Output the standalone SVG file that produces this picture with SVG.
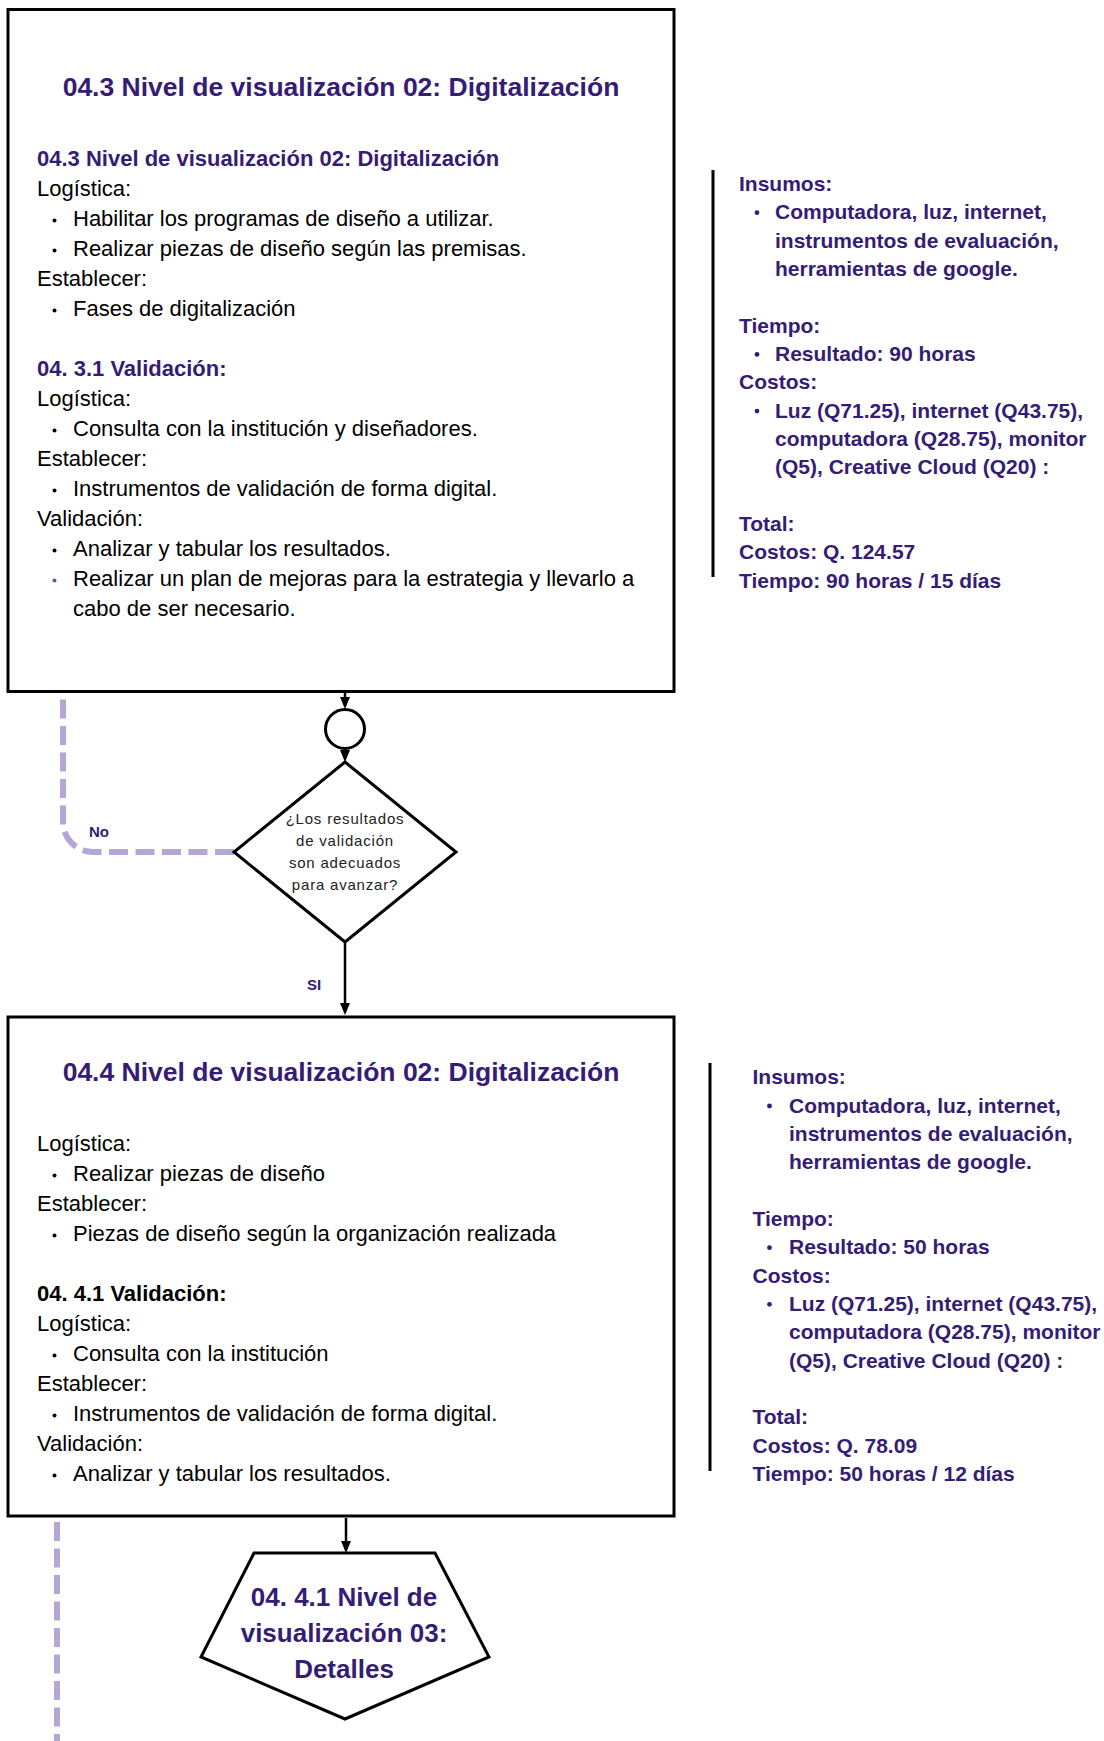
<svg xmlns="http://www.w3.org/2000/svg" width="1104" height="1741" viewBox="0 0 1104 1741">
<style>
.box{fill:#fff;stroke:#000;stroke-width:3}
.shape{fill:#fff;stroke:#000;stroke-width:3}
text{font-family:"Liberation Sans",Arial,Helvetica,sans-serif}
.title{font-size:26.5px;font-weight:bold;fill:#351c75}
.body{font-size:22px;fill:#000}
.h{font-size:22px;font-weight:bold;fill:#351c75}
.hb{font-size:22px;font-weight:bold;fill:#000}
.side{font-size:21px;font-weight:bold;fill:#351c75}
.q{font-size:15px;fill:#222;letter-spacing:0.8px}
.lbl{font-size:15px;font-weight:bold;fill:#351c75}
.pent{font-size:26px;font-weight:bold;fill:#351c75}
.arrow{stroke:#000;stroke-width:2.5;fill:none;marker-end:url(#ah)}
.dash{stroke:#b4a7d6;stroke-width:6;fill:none;stroke-dasharray:19 7.5}
.vline{stroke:#000;stroke-width:3}
.bk{fill:#000}
.bp{fill:#351c75}
</style>
<defs>
<marker id="ah" markerUnits="userSpaceOnUse" markerWidth="12" markerHeight="10" refX="9" refY="5" orient="auto" viewBox="0 0 12 10"><path d="M0,0 L12,5 L0,10 z" fill="#000"/></marker>
</defs>

<g id="connectors">
<path class="arrow" d="M345 693 V706"/>
<path class="arrow" d="M345 749 V759"/>
<path class="arrow" d="M345 943 V1012"/>
<path class="arrow" d="M346 1518 V1550"/>
<path class="dash" d="M234 852 H93 A30 30 0 0 1 63 822 V693"/>
<path class="dash" d="M57 1522 V1741"/>
<text class="lbl" x="99" y="836.5" text-anchor="middle">No</text>
<text class="lbl" x="314" y="989.5" text-anchor="middle">SI</text>
</g>

<g id="box1">
<rect class="box" x="8" y="9.5" width="666" height="682"/>
<text class="title" x="341" y="95.5" text-anchor="middle">04.3 Nivel de visualización 02: Digitalización</text>
<text class="h" x="37" y="166">04.3 Nivel de visualización 02: Digitalización</text>
<text class="body" x="37" y="196">Logística:</text>
<circle class="bk" cx="54.5" cy="220.5" r="2"/>
<text class="body" x="73" y="226">Habilitar los programas de diseño a utilizar.</text>
<circle class="bk" cx="54.5" cy="250.5" r="2"/>
<text class="body" x="73" y="256">Realizar piezas de diseño según las premisas.</text>
<text class="body" x="37" y="286">Establecer:</text>
<circle class="bk" cx="54.5" cy="310.5" r="2"/>
<text class="body" x="73" y="316">Fases de digitalización</text>
<text class="h" x="37" y="376">04. 3.1 Validación:</text>
<text class="body" x="37" y="406">Logística:</text>
<circle class="bk" cx="54.5" cy="430.5" r="2"/>
<text class="body" x="73" y="436">Consulta con la institución y diseñadores.</text>
<text class="body" x="37" y="466">Establecer:</text>
<circle class="bk" cx="54.5" cy="490.5" r="2"/>
<text class="body" x="73" y="496">Instrumentos de validación de forma digital.</text>
<text class="body" x="37" y="526">Validación:</text>
<circle class="bk" cx="54.5" cy="550.5" r="2"/>
<text class="body" x="73" y="556">Analizar y tabular los resultados.</text>
<circle fill="#674ea7" cx="54.5" cy="580.5" r="2"/>
<text class="body" x="73" y="586">Realizar un plan de mejoras para la estrategia y llevarlo a</text>
<text class="body" x="73" y="616">cabo de ser necesario.</text>
</g>

<g id="side1">
<line class="vline" x1="713" y1="170" x2="713" y2="577"/>
<text class="side" x="739" y="190.8">Insumos:</text>
<circle class="bp" cx="757" cy="212.7" r="2.4"/>
<text class="side" x="775" y="219.2">Computadora, luz, internet,</text>
<text class="side" x="775" y="247.5">instrumentos de evaluación,</text>
<text class="side" x="775" y="275.9">herramientas de google.</text>
<text class="side" x="739" y="332.6">Tiempo:</text>
<circle class="bp" cx="757" cy="354.4" r="2.4"/>
<text class="side" x="775" y="360.9">Resultado: 90 horas</text>
<text class="side" x="739" y="389.3">Costos:</text>
<circle class="bp" cx="757" cy="411.1" r="2.4"/>
<text class="side" x="775" y="417.6">Luz (Q71.25), internet (Q43.75),</text>
<text class="side" x="775" y="446">computadora (Q28.75), monitor</text>
<text class="side" x="775" y="474.3">(Q5), Creative Cloud (Q20) :</text>
<text class="side" x="739" y="531">Total:</text>
<text class="side" x="739" y="559.4">Costos: Q. 124.57</text>
<text class="side" x="739" y="587.7">Tiempo: 90 horas / 15 días</text>
</g>

<g id="merge">
<circle class="shape" cx="345" cy="729" r="19.5"/>
</g>

<g id="decision">
<polygon class="shape" points="345,762 456,852 345,942 234,852"/>
<text class="q" x="345" y="823.5" text-anchor="middle">¿Los resultados</text>
<text class="q" x="345" y="845.5" text-anchor="middle">de validación</text>
<text class="q" x="345" y="867.5" text-anchor="middle">son adecuados</text>
<text class="q" x="345" y="889.5" text-anchor="middle">para avanzar?</text>
</g>

<g id="box2">
<rect class="box" x="8" y="1017" width="666" height="499"/>
<text class="title" x="341" y="1080.5" text-anchor="middle">04.4 Nivel de visualización 02: Digitalización</text>
<text class="body" x="37" y="1151">Logística:</text>
<circle class="bk" cx="54.5" cy="1175.5" r="2"/>
<text class="body" x="73" y="1181">Realizar piezas de diseño</text>
<text class="body" x="37" y="1211">Establecer:</text>
<circle class="bk" cx="54.5" cy="1235.5" r="2"/>
<text class="body" x="73" y="1241">Piezas de diseño según la organización realizada</text>
<text class="hb" x="37" y="1301">04. 4.1 Validación:</text>
<text class="body" x="37" y="1331">Logística:</text>
<circle class="bk" cx="54.5" cy="1355.5" r="2"/>
<text class="body" x="73" y="1361">Consulta con la institución</text>
<text class="body" x="37" y="1391">Establecer:</text>
<circle class="bk" cx="54.5" cy="1415.5" r="2"/>
<text class="body" x="73" y="1421">Instrumentos de validación de forma digital.</text>
<text class="body" x="37" y="1451">Validación:</text>
<circle class="bk" cx="54.5" cy="1475.5" r="2"/>
<text class="body" x="73" y="1481">Analizar y tabular los resultados.</text>
</g>

<g id="side2">
<line class="vline" x1="710" y1="1063" x2="710" y2="1471"/>
<text class="side" x="752.5" y="1084.2">Insumos:</text>
<circle class="bp" cx="769.5" cy="1106" r="2.4"/>
<text class="side" x="789" y="1112.5">Computadora, luz, internet,</text>
<text class="side" x="789" y="1140.9">instrumentos de evaluación,</text>
<text class="side" x="789" y="1169.2">herramientas de google.</text>
<text class="side" x="752.5" y="1225.9">Tiempo:</text>
<circle class="bp" cx="769.5" cy="1247.7" r="2.4"/>
<text class="side" x="789" y="1254.2">Resultado: 50 horas</text>
<text class="side" x="752.5" y="1282.5">Costos:</text>
<circle class="bp" cx="769.5" cy="1304.3" r="2.4"/>
<text class="side" x="789" y="1310.8">Luz (Q71.25), internet (Q43.75),</text>
<text class="side" x="789" y="1339.2">computadora (Q28.75), monitor</text>
<text class="side" x="789" y="1367.5">(Q5), Creative Cloud (Q20) :</text>
<text class="side" x="752.5" y="1424.2">Total:</text>
<text class="side" x="752.5" y="1452.5">Costos: Q. 78.09</text>
<text class="side" x="752.5" y="1480.8">Tiempo: 50 horas / 12 días</text>
</g>

<g id="offpage">
<polygon class="shape" points="254,1553 435,1553 489,1657 345,1719 201,1657"/>
<text class="pent" x="344" y="1606" text-anchor="middle">04. 4.1 Nivel de</text>
<text class="pent" x="344" y="1642" text-anchor="middle">visualización 03:</text>
<text class="pent" x="344" y="1678" text-anchor="middle">Detalles</text>
</g>
</svg>
